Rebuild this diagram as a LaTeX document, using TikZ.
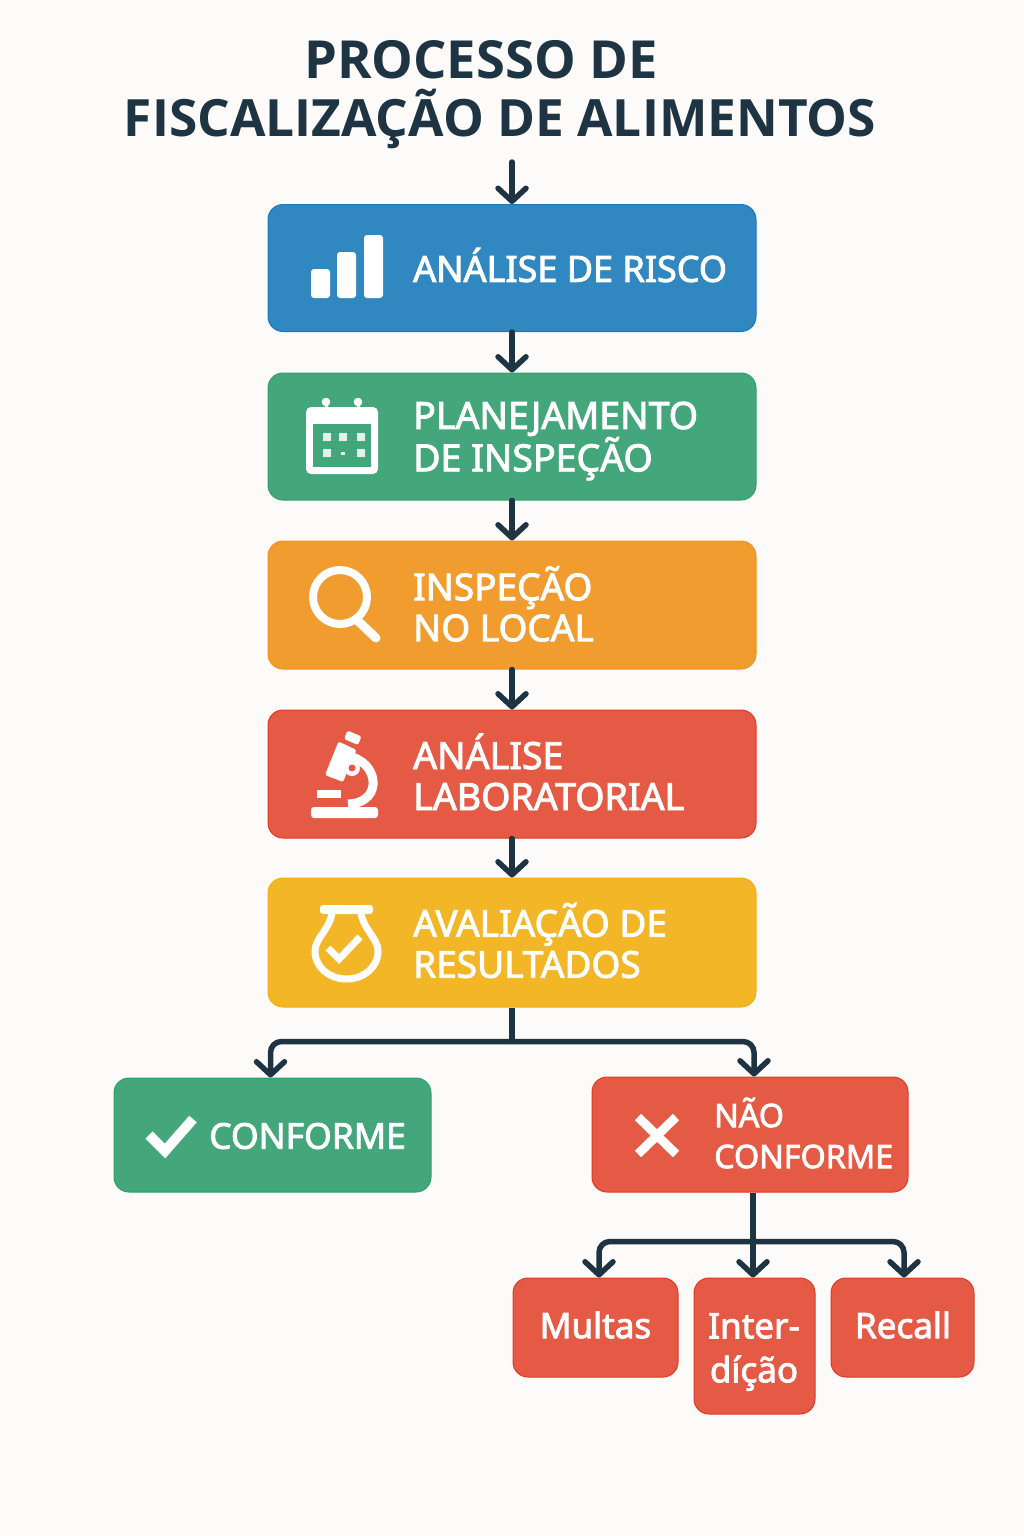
\documentclass[tikz,border=0pt]{standalone}
\usepackage{fontspec}
\setmainfont{Noto Sans}
\newfontfamily\boxfont[FakeBold=2.5]{Noto Sans}
\newfontfamily\titlefont{Open Sans}
\usetikzlibrary{arrows.meta}
\definecolor{fundo}{HTML}{FDFBFA}
\definecolor{escuro}{HTML}{1F3442}
\definecolor{azul}{HTML}{3187C0}
\definecolor{azulb}{HTML}{1F78BA}
\definecolor{verde}{HTML}{44A77B}
\definecolor{verdeb}{HTML}{2F9E6E}
\definecolor{laranja}{HTML}{F09C2E}
\definecolor{laranjab}{HTML}{EE9420}
\definecolor{vermelho}{HTML}{E55A44}
\definecolor{vermelhob}{HTML}{E03A26}
\definecolor{amarelo}{HTML}{F2B627}
\definecolor{amarelob}{HTML}{F3AE1C}
\tikzset{
  caixa/.style={rectangle,rounded corners=15pt,line width=1pt,inner sep=0pt},
  rotulo/.style={anchor=west,align=left,text=white,inner sep=0pt,font=\boxfont\fontsize{36}{41}\selectfont},
  titulotxt/.style={anchor=base,text=escuro,inner sep=0pt,font=\titlefont\bfseries\fontsize{51.4}{58}\selectfont},
  seta/.style={draw=escuro,line width=5.5pt,line cap=round,-{Straight Barb[length=13pt,width=28pt,line width=5.5pt,round]}},
  ramo/.style={seta,rounded corners=11pt},
  tronco/.style={draw=escuro,line width=5.5pt},
  icone/.style={draw=white,line width=8pt,line cap=round,line join=round},
}
\begin{document}
\begin{tikzpicture}[x=1pt,y=-1pt]
\def\largura{488pt}

% Macro for a step of the main column
\newcommand{\etapa}[8][36]{
    \node[caixa,fill=#4,draw=#5,minimum width=\largura,minimum height=#3] (#2) at (512,#6) {};
    \node[rotulo,font=\boxfont\fontsize{#1}{41}\selectfont] (#2txt) at (413,#7) {#8};
}

% Macro for a red box of the lower part
\newcommand{\caixafim}[5]{
    \node[caixa,fill=vermelho,draw=vermelhob,minimum width=#4,minimum height=#5] (#1) at (#2,#3) {};
}

\useasboundingbox (0,0) rectangle (1024,1536);
\fill[fundo] (0,0) rectangle (1024,1536);

% Title
\node[titulotxt,font=\titlefont\bfseries\fontsize{52.5}{58}\selectfont] (tituloA) at (481,78.5) {PROCESSO DE};
\node[titulotxt] (tituloB) at (500,136) {FISCALIZAÇÃO DE ALIMENTOS};
\coordinate (inicio) at (512,162);

% Steps
\etapa{risco}{127pt}{azul}{azulb}{268}{265}{ANÁLISE DE RISCO}
\etapa[37.5]{plano}{127pt}{verde}{verdeb}{436.5}{441}{PLANEJAMENTO\\DE INSPEÇÃO}
\etapa[37]{local}{128pt}{laranja}{laranjab}{605}{604}{INSPEÇÃO\\NO LOCAL}
\etapa[37.5]{lab}{128pt}{vermelho}{vermelhob}{774}{772}{ANÁLISE\\LABORATORIAL}
\etapa[37]{result}{129pt}{amarelo}{amarelob}{942.5}{940.5}{AVALIAÇÃO DE\\RESULTADOS}

% Results
\node[caixa,fill=verde,draw=verdeb,minimum width=317pt,minimum height=114pt] (conf) at (272.5,1135) {};
\node[rotulo,font=\boxfont\fontsize{35.5}{41}\selectfont] (conftxt) at (209,1136) {CONFORME};
\caixafim{nconf}{750}{1134.5}{316pt}{115pt}
\node[rotulo,font=\boxfont\fontsize{32.3}{41}\selectfont] (nconftxt) at (714,1133) {NÃO\\CONFORME};

% Measures
\caixafim{multas}{595.5}{1327.5}{165pt}{99pt}
\node[rotulo,anchor=center,font=\boxfont\fontsize{35}{41}\selectfont] (multastxt) at (595.5,1325) {Multas};
\caixafim{inter}{754.5}{1346}{121pt}{136pt}
\node[rotulo,anchor=center,align=center,font=\boxfont\fontsize{35}{44}\selectfont] (intertxt) at (754,1352) {Inter-\\díção};
\caixafim{recall}{902.5}{1327.5}{143pt}{99pt}
\node[rotulo,anchor=center,font=\boxfont\fontsize{35}{41}\selectfont] (recalltxt) at (903,1325) {Recall};

% Connectors
\draw[seta] (inicio) -- (risco.north);
\draw[seta] (risco.south) -- (plano.north);
\draw[seta] (plano.south) -- (local.north);
\draw[seta] (local.south) -- (lab.north);
\draw[seta] (lab.south) -- (result.north);
\draw[tronco] (result.south) -- ++(0,34) coordinate (juntaA);
\draw[ramo] (juntaA) -| ([xshift=-2pt]conf.north);
\draw[ramo] (juntaA) -| ([xshift=4pt]nconf.north);
\draw[tronco] ([xshift=3pt]nconf.south) -- ++(0,49) coordinate (juntaB);
\draw[ramo] (juntaB) -| ([xshift=3.5pt]multas.north);
\draw[ramo] (juntaB) -| ([xshift=1.5pt]recall.north);
\draw[seta] (juntaB) -- ([xshift=-1.5pt]inter.north);

% Icon: bars
\fill[white,rounded corners=3pt] (311,269) rectangle (330,298);
\fill[white,rounded corners=3pt] (337,252) rectangle (356,298);
\fill[white,rounded corners=3pt] (364,235) rectangle (383,298);

% Icon: calendar
\fill[white] (326,402) circle (4.3);
\fill[white] (358,402) circle (4.3);
\draw[white,line width=3pt] (326,402) -- (326,410) (358,402) -- (358,410);
\fill[white,rounded corners=5pt] (306,407) rectangle (378,474);
\fill[verde] (313,424) rectangle (371,467);
\foreach \cx in {327,343,361}
    \fill[white!85!verde] (\cx-4,433) rectangle (\cx+4,441);
\foreach \cx in {327,361}
    \fill[white!85!verde] (\cx-4,449) rectangle (\cx+4,457);
\fill[white!85!verde] (341,452) rectangle (345,455);

% Icon: magnifier
\draw[icone] (340,597) circle (27);
\draw[icone,line width=9pt] (358,621) -- (376,638);

% Icon: microscope
\fill[white,rounded corners=3pt] (311,807) rectangle (378,818);
\fill[white] (317,790) rectangle (341,798);
\fill[white,rounded corners=2pt] (347.5,730.5) -- (361.5,736.5) -- (358,745) -- (344,739) -- cycle;
\fill[white,rounded corners=2pt] (338.5,741.5) -- (356.5,750) -- (343,782) -- (325,775) -- cycle;
\draw[white,line width=9pt] (352,757) .. controls (368,762) and (374,775) .. (373,785)
    .. controls (372,796) and (362,804) .. (348,804);
\fill[white] (352,768) circle (8);
\fill[vermelho] (352,768) circle (3.5);

% Icon: jar
\fill[white,rounded corners=3pt] (320,905) rectangle (373,914);
\draw[icone,line width=7pt] (332,912) .. controls (331,928) and (315,938) .. (315,951)
    .. controls (315,968) and (330,979) .. (346.5,979)
    .. controls (363,979) and (378,968) .. (378,951)
    .. controls (378,938) and (362,928) .. (361,912);
\draw[icone,line width=7pt,line cap=butt,line join=miter] (328,948) -- (339,959) -- (360,937);

% Icon: check
\draw[icone,line width=10pt,line cap=butt,line join=miter] (149,1135) -- (165,1151) -- (193,1119);

% Icon: cross
\draw[icone,line width=9pt,line cap=butt] (638,1117) -- (676,1154) (676,1117) -- (638,1154);

\end{tikzpicture}
\end{document}
